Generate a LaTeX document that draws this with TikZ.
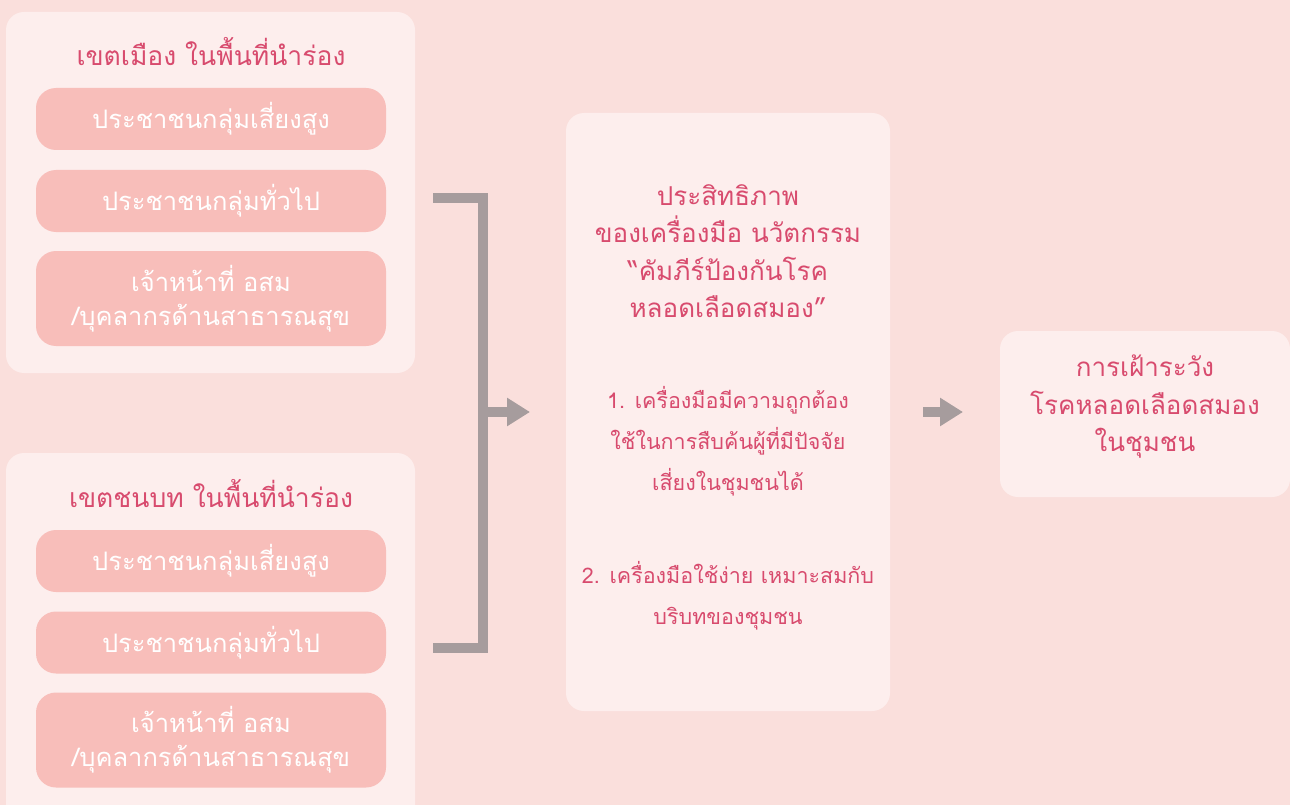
\documentclass[tikz,border=0pt]{standalone}
\usepackage{fontspec}
\newfontfamily\thai[Script=Thai]{Loma}
\usetikzlibrary{arrows.meta}
\definecolor{bgc}{HTML}{FADFDC}
\definecolor{panelc}{HTML}{FDEEED}
\definecolor{innerc}{HTML}{F8BEBA}
\definecolor{greyc}{HTML}{A69C9D}
\definecolor{pinkc}{HTML}{D84B6E}
\tikzset{
  panel/.style={fill=panelc, draw=none, rounded corners=18pt},
  inner/.style={fill=innerc, draw=none, rounded corners=20pt, minimum width=350pt, text=white, font=\thai\fontsize{25.5}{34}\selectfont, align=center, inner sep=0pt},
  ttl/.style={text=pinkc, font=\thai\fontsize{26.5}{34}\selectfont, align=center, inner sep=0pt},
  midtxt/.style={text=pinkc, font=\thai\fontsize{21.5}{41}\selectfont, align=center, inner sep=0pt},
  bigtxt/.style={text=pinkc, font=\thai\fontsize{26}{37.5}\selectfont, align=center, inner sep=0pt},
  conn/.style={draw=greyc, line width=10pt, miter limit=10},
  arr/.style={draw=greyc, line width=10pt, -{Triangle[length=23pt,width=27pt]}},
}
\begin{document}
\begin{tikzpicture}[x=1pt,y=-1pt]
\useasboundingbox (0,0) rectangle (1290,805);
\clip (0,0) rectangle (1290,805);
\fill[bgc] (0,0) rectangle (1290,805);
% left panels
\node[panel, minimum width=409pt, minimum height=361pt] (p1) at (210.5,192.5) {};
\node[panel, minimum width=409pt, minimum height=380pt] (p2) at (210.5,643) {};
\node[ttl] (t1) at (211,52) {เขตเมือง ในพื้นที่นำร่อง};
\node[ttl] (t2) at (211,494) {เขตชนบท ในพื้นที่นำร่อง};
\node[inner, minimum height=62pt] (a1) at (211,119) {ประชาชนกลุ่มเสี่ยงสูง};
\node[inner, minimum height=62pt] (a2) at (211,201) {ประชาชนกลุ่มทั่วไป};
\node[inner, minimum height=95pt] (a3) at (211,298.5) {เจ้าหน้าที่ อสม\\/บุคลากรด้านสาธารณสุข};
\node[inner, minimum height=62pt] (b1) at (211,561) {ประชาชนกลุ่มเสี่ยงสูง};
\node[inner, minimum height=62pt] (b2) at (211,642.5) {ประชาชนกลุ่มทั่วไป};
\node[inner, minimum height=95pt] (b3) at (211,740) {เจ้าหน้าที่ อสม\\/บุคลากรด้านสาธารณสุข};
% middle box
\node[panel, minimum width=324pt, minimum height=598pt] (m) at (728,412) {};
\node[bigtxt] (m1) at (728,251) {ประสิทธิภาพ\\ของเครื่องมือ นวัตกรรม\\“คัมภีร์ป้องกันโรค\\หลอดเลือดสมอง”};
\node[midtxt] (m2) at (728,441) {1. เครื่องมือมีความถูกต้อง\\ใช้ในการสืบค้นผู้ที่มีปัจจัย\\เสี่ยงในชุมชนได้};
\node[midtxt] (m3) at (728,596) {2. เครื่องมือใช้ง่าย เหมาะสมกับ\\บริบทของชุมชน};
% right box
\node[panel, minimum width=290pt, minimum height=166pt] (r) at (1145,414) {};
\node[bigtxt] (r1) at (1145,407) {การเฝ้าระวัง\\โรคหลอดเลือดสมอง\\ในชุมชน};
% connectors
\coordinate (c1) at (433,198);
\coordinate (c2) at (433,648);
\coordinate (cm) at (483,412);
\draw[conn] (c1) -- (483,198) -- (483,648) -- (c2);
\draw[arr] (cm) -- (m.west -| 530,0);
\coordinate (d1) at (923,412);
\draw[arr] (d1) -- (963,412);
\end{tikzpicture}
\end{document}
